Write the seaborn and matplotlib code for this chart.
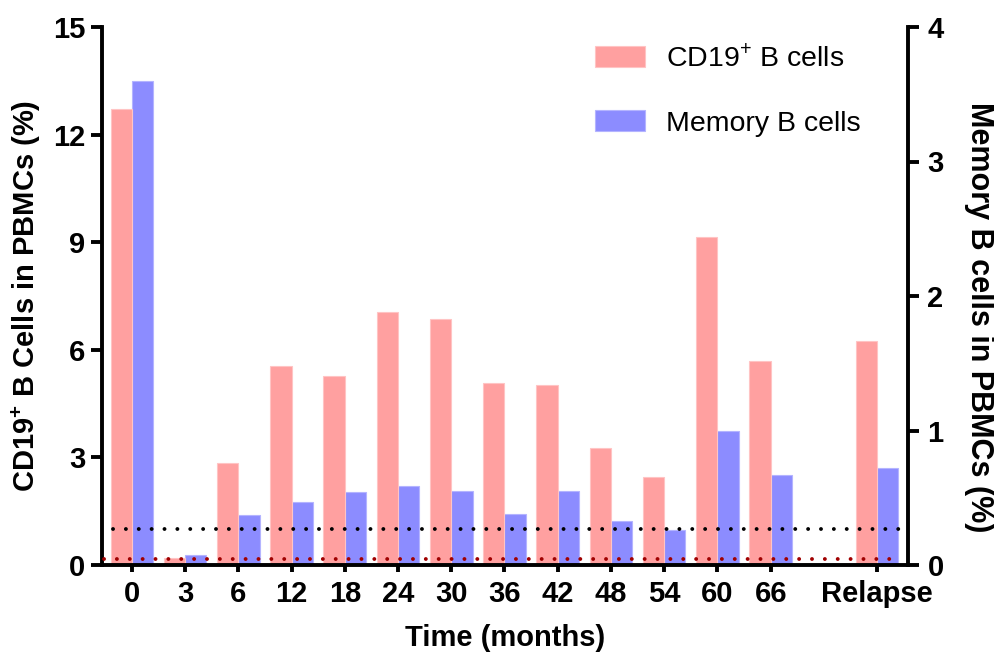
import matplotlib
matplotlib.use("Agg")
import matplotlib.pyplot as plt
import seaborn as sns
import pandas as pd

# ---- data ----
times = ['0', '3', '6', '12', '18', '24', '30', '36', '42', '48', '54', '60', '66', 'Relapse']
order = ['0', '3', '6', '12', '18', '24', '30', '36', '42', '48', '54', '60', '66', ' ', 'Relapse']
cd19 = [12.7, 0.2, 2.85, 5.55, 5.28, 7.05, 6.85, 5.07, 5.02, 3.25, 2.45, 9.15, 5.7, 6.25]
memory = [3.6, 0.075, 0.37, 0.47, 0.545, 0.59, 0.55, 0.38, 0.55, 0.33, 0.26, 1.0, 0.67, 0.72]
series = ['CD19', 'Memory']
cd19_threshold = 1.0
low_threshold = 0.16

sns.set_style('ticks', rc={'axes.edgecolor': 'black', 'xtick.color': 'black',
                           'ytick.color': 'black', 'text.color': 'black',
                           'axes.labelcolor': 'black'})
plt.rcParams['font.family'] = ['Liberation Sans', 'DejaVu Sans']
plt.rcParams['mathtext.fontset'] = 'custom'
plt.rcParams['mathtext.rm'] = 'Liberation Sans'
plt.rcParams['mathtext.bf'] = 'Liberation Sans:bold'

pink = '#FFA0A0'
blue = '#8C8CFF'
palette = {'CD19': pink, 'Memory': blue}

df_cd = pd.DataFrame({'time': times, 'value': cd19, 'series': 'CD19'})
df_mem = pd.DataFrame({'time': times, 'value': memory, 'series': 'Memory'})

fig = plt.figure(figsize=(9.95, 6.53), dpi=100)
ax = fig.add_axes([102 / 995, 88 / 653, 806 / 995, 538 / 653])
ax2 = ax.twinx()

sns.barplot(data=df_cd, x='time', y='value', hue='series', hue_order=series,
            order=order, palette=palette, width=0.8, dodge=True, saturation=1,
            ax=ax, edgecolor='#FFC4C4', linewidth=0.8, legend=False)
sns.barplot(data=df_mem, x='time', y='value', hue='series', hue_order=series,
            order=order, palette=palette, width=0.8, dodge=True, saturation=1,
            ax=ax2, edgecolor='#B4B4FF', linewidth=0.8, legend=False)

# put the left axes (with the dotted lines) above the twin
ax.set_zorder(ax2.get_zorder() + 1)
ax.patch.set_visible(False)

ax.set_xlim(-0.56, 14.58)
ax.set_ylim(0, 15)
ax2.set_ylim(0, 4)
ax.set_yticks([0, 3, 6, 9, 12, 15])
ax2.set_yticks([0, 1, 2, 3, 4])

# threshold dotted lines
ax.hlines(cd19_threshold, -0.35, 14.45, colors='black', linewidth=2.8,
          linestyles=(0, (0.01, 3.3)), capstyle='round', zorder=5)
ax.hlines(low_threshold, -0.52, 14.45, colors='#A00000', linewidth=2.8,
          linestyles=(0, (0.01, 3.3)), capstyle='round', zorder=5)

for a in (ax, ax2):
    for s in a.spines.values():
        s.set_linewidth(2.8)
        s.set_color('black')
    a.spines['top'].set_visible(False)
    a.grid(False)
ax.spines['right'].set_visible(False)
ax2.spines['left'].set_visible(False)
ax2.spines['bottom'].set_visible(False)
ax2.spines['right'].set_visible(True)

ax.tick_params(axis='y', length=8, width=2.8, pad=4, labelsize=21)
ax.tick_params(axis='x', length=5, width=2.8, pad=6, labelsize=21)
ax2.tick_params(axis='y', length=8, width=2.8, pad=6, labelsize=21)
for lab in ax.get_xticklabels() + ax.get_yticklabels() + ax2.get_yticklabels():
    lab.set_fontweight('bold')

# hide the tick for the empty gap slot
ticks = ax.xaxis.get_major_ticks()
ticks[13].tick1line.set_visible(False)

ax.set_xlabel('Time (months)', fontsize=21, fontweight='bold', labelpad=11)
ax.set_ylabel(r'CD19$^{\mathbf{+}}$ B Cells in PBMCs (%)', fontsize=21,
              fontweight='bold', labelpad=7)
ax2.set_ylabel('Memory B cells in PBMCs (%)', fontsize=22, fontweight='bold',
               rotation=270, labelpad=36)
ax2.yaxis.label.set_y(0.46)

handles = [ax.patches[0], ax2.patches[-1]]
leg = ax.legend(handles, [r'CD19$^{\mathrm{+}}$ B cells', 'Memory B cells'],
                loc='upper left', bbox_to_anchor=(0.58, 1.016), frameon=False,
                fontsize=20.5, handlelength=1.75, handleheight=0.75,
                handletextpad=0.75, labelspacing=1.35)

fig.savefig('out.png', dpi=100)
